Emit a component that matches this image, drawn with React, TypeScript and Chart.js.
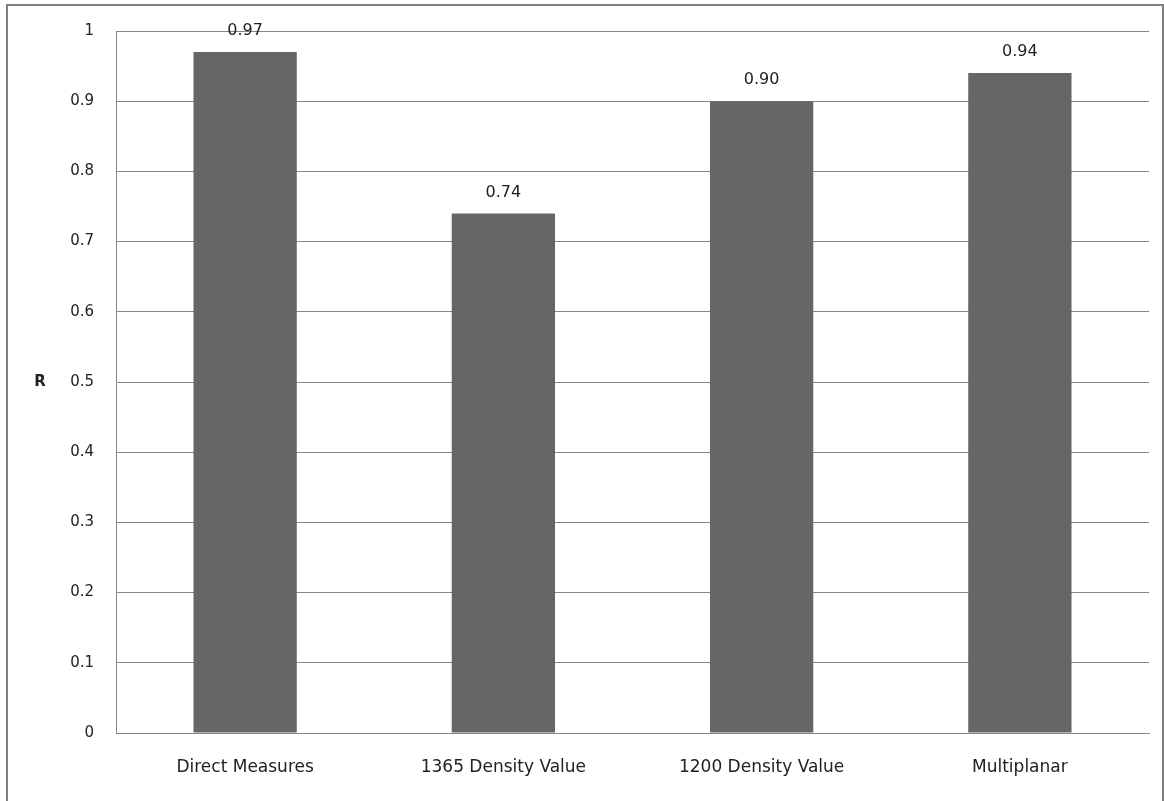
import React, { useEffect, useRef } from "react";
import { Chart, registerables } from "chart.js";

Chart.register(...registerables);

// Correlation (R) of each measurement method
const categories = ["Direct Measures", "1365 Density Value", "1200 Density Value", "Multiplanar"];
const rValues = [0.97, 0.74, 0.9, 0.94];
const yTicks = [0, 0.1, 0.2, 0.3, 0.4, 0.5, 0.6, 0.7, 0.8, 0.9, 1];

const FONT = "'DejaVu Sans', sans-serif";

// Writes each bar's value above it and the horizontal "R" axis caption
const barLabels = {
  id: "barLabels",
  afterDatasetsDraw(chart: any) {
    const ctx = chart.ctx;
    const meta = chart.getDatasetMeta(0);
    ctx.save();
    ctx.fillStyle = "#222222";
    ctx.font = `16px ${FONT}`;
    ctx.textAlign = "center";
    ctx.textBaseline = "middle";
    meta.data.forEach((bar: any, i: number) => {
      const v = chart.data.datasets[0].data[i] as number;
      ctx.fillText(v.toFixed(2), bar.x, bar.y - 21);
    });
    const yScale = chart.scales.y;
    ctx.font = `bold 15px ${FONT}`;
    ctx.fillText("R", 40, yScale.getPixelForValue(0.5));
    ctx.restore();
  },
};

export default function App() {
  const canvasRef = useRef<HTMLCanvasElement | null>(null);

  useEffect(() => {
    if (!canvasRef.current) return;
    const chart = new Chart(canvasRef.current, {
      type: "bar",
      data: {
        labels: categories,
        datasets: [
          {
            data: rValues,
            backgroundColor: "#666666",
            borderWidth: 0,
            categoryPercentage: 1,
            barPercentage: 0.4,
          },
        ],
      },
      options: {
        animation: false,
        responsive: false,
        layout: { padding: { top: 28, right: 15, bottom: 0, left: 0 } },
        plugins: {
          legend: { display: false },
          tooltip: { enabled: false },
        },
        scales: {
          x: {
            grid: { display: false, drawTicks: false },
            border: { display: true, color: "#868686", width: 1 },
            ticks: {
              color: "#222222",
              font: { family: FONT, size: 17 },
              padding: 24,
              maxRotation: 0,
            },
            afterFit: (s: any) => {
              s.height = 68;
            },
          },
          y: {
            min: 0,
            max: 1,
            afterBuildTicks: (s: any) => {
              s.ticks = yTicks.map((v) => ({ value: v }));
            },
            grid: { color: "#868686", lineWidth: 1, drawTicks: false },
            border: { display: true, color: "#868686", width: 1 },
            ticks: {
              color: "#222222",
              font: { family: FONT, size: 15 },
              padding: 22,
              callback: (v: any) => String(Number(v)),
            },
            afterFit: (s: any) => {
              s.width = 116;
            },
          },
        },
      },
      plugins: [barLabels],
    });
    return () => chart.destroy();
  }, []);

  return (
    <div>
      <canvas
        ref={canvasRef}
        width={1164}
        height={801}
        style={{ position: "fixed", left: 0, top: 0, width: 1164, height: 801, background: "#ffffff" }}
      />
      <div
        style={{
          position: "fixed",
          left: 6,
          top: 4,
          width: 1158,
          height: 830,
          boxSizing: "border-box",
          border: "2px solid #7f7f7f",
          pointerEvents: "none",
        }}
      />
    </div>
  );
}
